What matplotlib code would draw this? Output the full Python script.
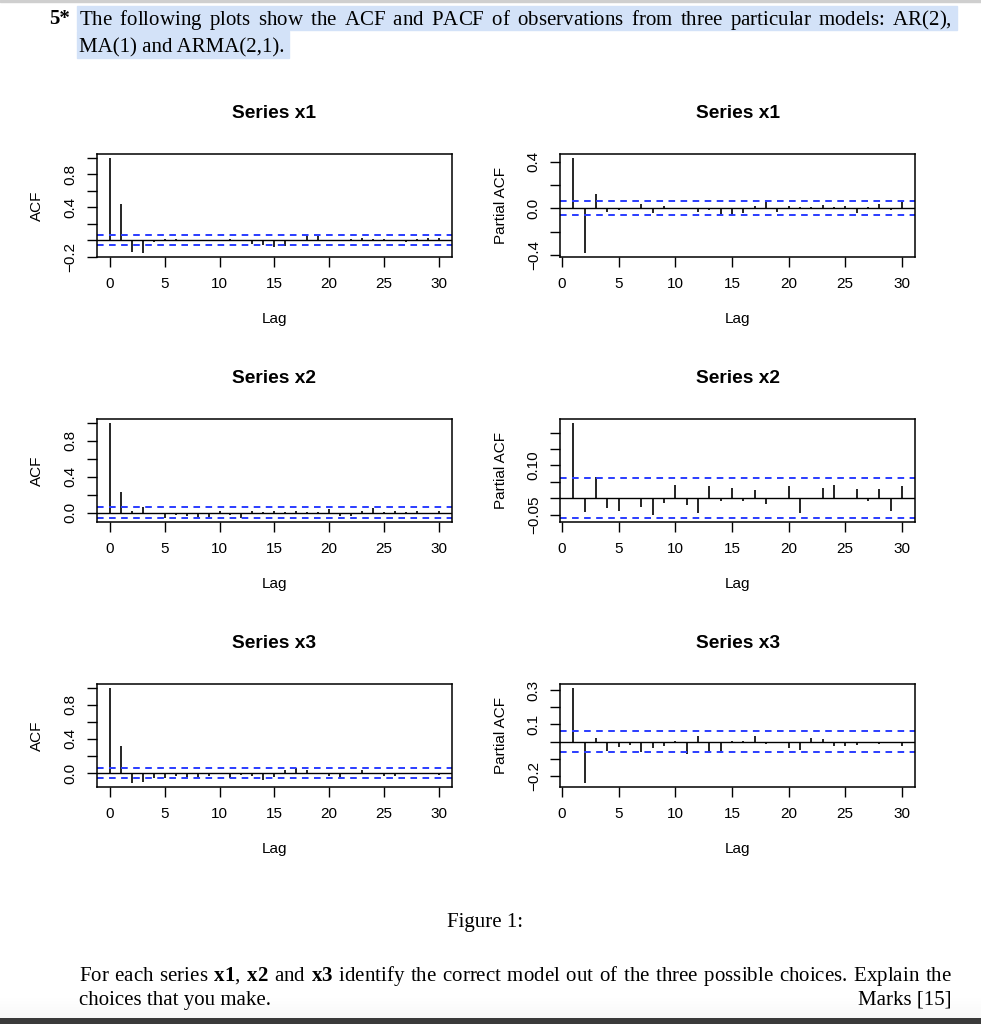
import numpy as np
import matplotlib.pyplot as plt
from matplotlib.patches import Rectangle

plt.rcParams['font.family'] = ['Liberation Sans', 'DejaVu Sans']
plt.rcParams['mathtext.fontset'] = 'custom'
plt.rcParams['mathtext.rm'] = 'Liberation Serif'
plt.rcParams['mathtext.it'] = 'Liberation Serif:italic'
plt.rcParams['mathtext.bf'] = 'Liberation Serif:bold'

# sample size behind the confidence bands
n_obs = 1000

acf_lags = list(range(0, 31))
pacf_lags = list(range(1, 31))

acf_x1 = [1.0, 0.436, -0.144, -0.16, -0.02, 0.01, 0.01, 0.003, 0.005, 0.003, 0.003,
          0.01, 0.003, -0.04, -0.06, -0.08, -0.07, -0.01, 0.064, 0.056, 0.003,
          0.003, 0.02, 0.03, 0.015, 0.01, -0.01, -0.02, 0.02, 0.03, 0.025]
pacf_x1 = [0.434, -0.389, 0.124, -0.034, -0.017, -0.01, 0.04, -0.04, 0.017, 0.005,
           0.003, -0.028, -0.017, -0.05, -0.056, -0.04, 0.017, 0.05, -0.028, 0.017,
           0.01, 0.01, 0.028, 0.01, 0.022, -0.045, 0.01, 0.034, -0.015, 0.05]

acf_x2 = [1.0, 0.23, 0.018, 0.062, 0.003, -0.055, -0.025, -0.037, -0.058, -0.048,
          0.026, -0.018, -0.06, 0.018, 0.011, 0.026, 0.011, 0.026, 0.005, 0.005,
          0.04, -0.033, -0.037, 0.026, 0.055, 0.01, 0.026, 0.005, 0.018, -0.011, 0.026]
pacf_x2 = [0.23, -0.042, 0.064, -0.03, -0.038, 0.001, -0.028, -0.052, -0.016, 0.04,
           -0.02, -0.044, 0.036, -0.008, 0.032, -0.01, 0.024, -0.018, 0.002, 0.038,
           -0.044, -0.004, 0.03, 0.04, 0.001, 0.028, -0.01, 0.028, -0.038, 0.036]

acf_x3 = [1.0, 0.315, -0.123, -0.108, -0.062, -0.054, -0.03, -0.054, -0.06, -0.03,
          -0.005, -0.054, -0.023, -0.03, -0.077, -0.046, 0.038, 0.062, 0.03, 0.002,
          -0.03, -0.062, -0.005, 0.038, 0.005, -0.03, -0.03, -0.01, -0.01, 0.002, -0.02]
pacf_x3 = [0.315, -0.246, 0.023, -0.054, -0.031, -0.019, -0.062, -0.038, -0.027, 0.004,
           -0.073, 0.031, -0.062, -0.065, 0.001, 0.004, 0.031, -0.015, -0.005, -0.038,
           -0.05, 0.019, 0.012, -0.027, -0.027, -0.023, -0.008, -0.015, -0.005, -0.027]

series_names = ['x1', 'x2', 'x3']

acf_yticks = {
    'x1': ([-0.2, 0.0, 0.2, 0.4, 0.6, 0.8, 1.0], ['\u22120.2', '', '', '0.4', '', '0.8', '']),
    'x2': ([0.0, 0.2, 0.4, 0.6, 0.8, 1.0], ['0.0', '', '0.4', '', '0.8', '']),
    'x3': ([0.0, 0.2, 0.4, 0.6, 0.8, 1.0], ['0.0', '', '0.4', '', '0.8', '']),
}
pacf_yticks = {
    'x1': ([-0.4, -0.2, 0.0, 0.2, 0.4], ['\u22120.4', '', '0.0', '', '0.4']),
    'x2': ([-0.05, 0.0, 0.05, 0.10, 0.15, 0.20], ['\u22120.05', '', '', '0.10', '', '']),
    'x3': ([-0.2, -0.1, 0.0, 0.1, 0.2, 0.3], ['\u22120.2', '', '', '0.1', '', '0.3']),
}
xticks = [0, 5, 10, 15, 20, 25, 30]

acf_data = {'x1': acf_x1, 'x2': acf_x2, 'x3': acf_x3}
pacf_data = {'x1': pacf_x1, 'x2': pacf_x2, 'x3': pacf_x3}

header_1 = 'The following plots show the ACF and PACF of observations from three particular models: AR(2),'
header_2 = 'MA(1) and ARMA(2,1).'
footer_1 = (r'For each series $\mathbf{x1}$, $\mathbf{x2}$ and $\mathbf{x3}$ identify the '
            r'correct model out of the three possible choices. Explain the')
footer_2 = 'choices that you make.'

W, H = 981, 1024
fig = plt.figure(figsize=(W / 100, H / 100), dpi=100)

clim = 1.96 / np.sqrt(n_obs)
lab_fs = 11


def draw_panel(ax, lags, vals, yticks, ylab):
    vals = np.asarray(vals)
    ax.vlines(lags, 0, vals, color='black', lw=1.2)
    ax.axhline(0, color='black', lw=1.0)
    for c in (clim, -clim):
        ax.axhline(c, color='#2a3cff', lw=1.4, dashes=(3.4, 2.8))
    lo = min(vals.min(), -clim)
    hi = max(vals.max(), clim)
    ext = (hi - lo) * 0.04
    ax.set_ylim(lo - ext, hi + ext)
    xlo, xhi = min(lags), max(lags)
    xext = (xhi - xlo) * 0.04
    ax.set_xlim(xlo - xext, xhi + xext)
    ax.set_xticks(xticks)
    ax.set_yticks(yticks[0], yticks[1], rotation=90, va='center')
    ax.tick_params(axis='both', direction='out', length=7, width=1.0,
                   labelsize=lab_fs, pad=7)
    for s in ax.spines.values():
        s.set_linewidth(1.1)
    ax.set_xlabel('Lag', fontsize=lab_fs, va='top')
    ax.xaxis.set_label_coords(0.5, -0.53)
    ax.set_ylabel(ylab, fontsize=lab_fs, va='center')
    ax.yaxis.set_label_coords(-0.168, 0.5)


tops = [154, 419, 684]
box_h = 103.3
left_x = [96.7, 560.3]
box_w = [355.3, 354.7]

for i, name in enumerate(series_names):
    bottom = 1 - (tops[i] + box_h) / H
    ax1 = fig.add_axes([left_x[0] / W, bottom, box_w[0] / W, box_h / H])
    draw_panel(ax1, acf_lags, acf_data[name], acf_yticks[name], 'ACF')
    ax1.set_title('Series ' + name, fontsize=13.8, fontweight='bold',
                  y=1 + 40.5 / box_h, va='center', pad=0)
    ax2 = fig.add_axes([left_x[1] / W, bottom, box_w[1] / W, box_h / H])
    draw_panel(ax2, pacf_lags, pacf_data[name], pacf_yticks[name], 'Partial ACF')
    ax2.set_title('Series ' + name, fontsize=13.8, fontweight='bold',
                  y=1 + 40.5 / box_h, va='center', pad=0)


def fy(y):
    return 1 - y / H


# page decorations: top rule, selection highlight, bottom shadow
fig.patches.append(Rectangle((0, fy(2)), 1, 2 / H, transform=fig.transFigure,
                             color='#cfcfcf', zorder=0))
fig.patches.append(Rectangle((77 / W, fy(30)), (957 - 77) / W, 24 / H,
                             transform=fig.transFigure, color='#d3e2f8', zorder=0))
fig.patches.append(Rectangle((77 / W, fy(58)), (289 - 77) / W, 27 / H,
                             transform=fig.transFigure, color='#d3e2f8', zorder=0))

bg = fig.add_axes([0, 0, 1, 30 / H], zorder=-5)
grad = np.linspace(0, 1, 30)
shade = np.where(grad < 0.2, 0.23, 0.97 + 0.03 * (grad - 0.2) / 0.8)
bg.imshow(np.tile(shade[:, None], (1, 10)), cmap='gray', vmin=0, vmax=1,
          aspect='auto', origin='lower', extent=(0, 1, 0, 1))
bg.axis('off')

serif = ['Liberation Serif', 'DejaVu Serif']
body_fs = 15
renderer = fig.canvas.get_renderer()


def text_width(s):
    t = fig.text(0, 0, s, family=serif, fontsize=body_fs)
    w = t.get_window_extent(renderer).width
    t.remove()
    return w


# width of one \hspace unit in pixels
hs_unit = text_width(r'a$\hspace{1}$a') - text_width(r'a$\hspace{0}$a')


def justified(line, x0, x1, y):
    # LaTeX-style justified line, kept as one text so the baseline stays put
    words = line.split(' ')
    natural = text_width(r' $\hspace{0}$'.join(words))
    extra = (x1 - x0 - natural) / (len(words) - 1) / hs_unit
    fig.text(x0 / W, fy(y), (r' $\hspace{%.4f}$' % extra).join(words),
             family=serif, fontsize=body_fs, va='baseline')


fig.text(49 / W, fy(24.5), '5*', family=serif, fontsize=body_fs, fontweight='bold',
         va='baseline')
justified(header_1, 79, 952, 24.5)
fig.text(79 / W, fy(52), header_2, family=serif, fontsize=body_fs, va='baseline')
fig.text(485 / W, fy(926.5), 'Figure 1:', family=serif, fontsize=body_fs,
         ha='center', va='baseline')
justified(footer_1, 79, 952, 980.5)
fig.text(79 / W, fy(1005), footer_2, family=serif, fontsize=body_fs, va='baseline')
fig.text(952 / W, fy(1005), 'Marks [15]', family=serif, fontsize=body_fs,
         ha='right', va='baseline')

fig.savefig('out.png', dpi=100)
